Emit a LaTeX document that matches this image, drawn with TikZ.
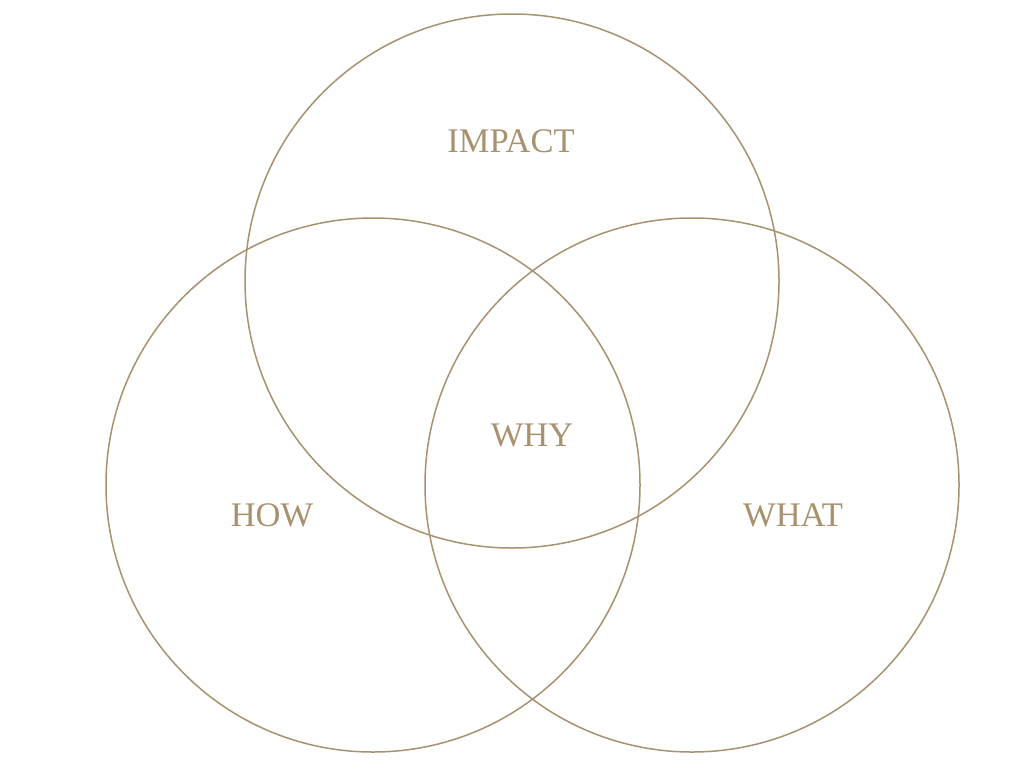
\documentclass[tikz,border=0pt]{standalone}
\usepackage{fontspec}
\setmainfont{Liberation Serif}
\definecolor{gold}{RGB}{168,145,110}
\begin{document}
\begin{tikzpicture}[x=1pt,y=-1pt,
  ring/.style={draw=gold,line width=1.5pt,circle,minimum size=534pt,inner sep=0pt},
  lbl/.style={text=gold,font=\fontsize{34.5}{38}\selectfont,inner sep=0pt}]
\useasboundingbox (0,0) rectangle (1024,768);
\node[ring] (top) at (512,281) {};
\node[ring] (left) at (373,485) {};
\node[ring] (right) at (692,485) {};
\node[lbl] (impact) at (511,141) {IMPACT};
\node[lbl] (why) at (532,435) {WHY};
\node[lbl] (how) at (272,515) {HOW};
\node[lbl] (what) at (793,515) {WHAT};
\end{tikzpicture}
\end{document}
